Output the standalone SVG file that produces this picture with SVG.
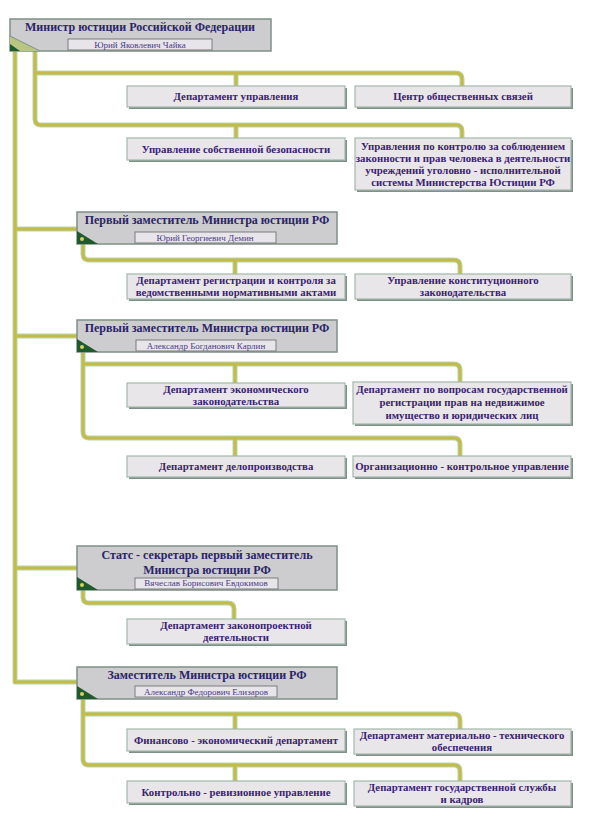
<svg xmlns="http://www.w3.org/2000/svg" width="593" height="823" viewBox="0 0 593 823">
<style>
.co{fill:none;stroke:#b8d6ab;stroke-width:5;stroke-linejoin:round}
.ci{fill:none;stroke:#c4ba48;stroke-width:3;stroke-linejoin:round}
.hd{fill:#cdcdcf;stroke:#7e9086;stroke-width:1.5}
.nm{fill:#e7e5e9;stroke:#7c7c7c;stroke-width:1}
.bx{fill:#e8e6e8;stroke:#a3b8aa;stroke-width:1.2}
.sh{fill:#7f9088}
.tri{fill:#1f5a2e}
.ht{font-family:"Liberation Serif",serif;font-weight:bold;font-size:12px;fill:#2a2468;text-anchor:middle}
.nt{font-family:"Liberation Serif",serif;font-size:9px;fill:#4a3a88;text-anchor:middle}
.bt{font-family:"Liberation Serif",serif;font-weight:bold;font-size:10.8px;fill:#3a2272;text-anchor:middle}
</style>
<defs>
<path id="p1" d="M15,40 V682 H77 M15,229 H77 M15,336 H77 M15,568 H77"/>
<path id="p2" d="M35,48 V119 Q35,125 41,125 H456 Q462,125 462,131 V138 M35,73 H456 Q462,73 462,79 V86 M236,73 V86 M236,125 V138"/>
<path id="p3" d="M83,242 V254 Q83,260 89,260 H454 Q460,260 460,266 V274 M235,260 V274"/>
<path id="p4" d="M83,350 V432 Q83,438 89,438 H454 Q460,438 460,444 V456 M83,364 H454 Q460,364 460,370 V382 M235,364 V383 M235,438 V456"/>
<path id="p5" d="M83,588 V597 Q83,603 89,603 H228 Q234,603 234,609 V619"/>
<path id="p6" d="M83,697 V759 Q83,765 89,765 H454 Q460,765 460,771 V781 M83,714 H454 Q460,714 460,720 V729 M235,714 V729 M235,765 V781"/>
</defs>
<rect width="593" height="823" fill="#ffffff"/>
<g id="connectors">
<use href="#p1" class="co"/><use href="#p2" class="co"/><use href="#p3" class="co"/><use href="#p4" class="co"/><use href="#p5" class="co"/><use href="#p6" class="co"/>
<use href="#p1" class="ci"/><use href="#p2" class="ci"/><use href="#p3" class="ci"/><use href="#p4" class="ci"/><use href="#p5" class="ci"/><use href="#p6" class="ci"/>
</g>
<g id="h1">
<rect class="hd" x="10" y="19" width="261" height="32"/>
<polygon points="10,36 10,51 40,51" fill="#b9c680"/>
<polygon points="10,44 10,51 20,51" class="tri"/>
<line x1="10" y1="36" x2="40" y2="51" stroke="#8a9a8f" stroke-width="1.2"/>
<rect class="nm" x="68" y="39" width="144" height="11"/>
<text class="ht" x="140" y="31">Министр юстиции Российской Федерации</text>
<text class="nt" x="140" y="48">Юрий Яковлевич Чайка</text>
</g>
<g id="h2">
<rect class="hd" x="77" y="212" width="260" height="32"/>
<polygon points="77,231 77,244 98,244" class="tri"/>
<circle cx="82" cy="239" r="2" fill="#d8cf55"/>
<rect class="nm" x="135" y="232" width="141" height="11"/>
<text class="ht" x="207" y="224">Первый заместитель Министра юстиции РФ</text>
<text class="nt" x="205" y="241">Юрий Георгиевич Демин</text>
</g>
<g id="h3">
<rect class="hd" x="77" y="320" width="260" height="32"/>
<polygon points="77,339 77,352 98,352" class="tri"/>
<circle cx="82" cy="347" r="2" fill="#d8cf55"/>
<rect class="nm" x="136" y="340" width="140" height="11"/>
<text class="ht" x="207" y="332">Первый заместитель Министра юстиции РФ</text>
<text class="nt" x="206" y="349">Александр Богданович Карлин</text>
</g>
<g id="h4">
<rect class="hd" x="77" y="546" width="260" height="44"/>
<polygon points="77,577 77,590 98,590" class="tri"/>
<circle cx="82" cy="585" r="2" fill="#d8cf55"/>
<rect class="nm" x="135" y="578" width="143" height="11"/>
<text class="ht" x="207" y="559">Статс - секретарь первый заместитель</text>
<text class="ht" x="207" y="574">Министра юстиции РФ</text>
<text class="nt" x="206" y="586">Вячеслав Борисович Евдокимов</text>
</g>
<g id="h5">
<rect class="hd" x="77" y="667" width="260" height="32"/>
<polygon points="77,686 77,699 98,699" class="tri"/>
<circle cx="82" cy="694" r="2" fill="#d8cf55"/>
<rect class="nm" x="135" y="686" width="142" height="11"/>
<text class="ht" x="207" y="679">Заместитель Министра юстиции РФ</text>
<text class="nt" x="206" y="695">Александр Федорович Елизаров</text>
</g>
<g id="a1"><rect class="sh" x="129" y="88" width="218" height="21"/><rect class="bx" x="127" y="86" width="218" height="21"/><text class="bt" x="236" y="100">Департамент управления</text></g>
<g id="a2"><rect class="sh" x="357" y="88" width="216" height="21"/><rect class="bx" x="355" y="86" width="216" height="21"/><text class="bt" x="463" y="100">Центр общественных связей</text></g>
<g id="b1"><rect class="sh" x="129" y="140" width="218" height="22"/><rect class="bx" x="127" y="138" width="218" height="22"/><text class="bt" x="236" y="153">Управление собственной безопасности</text></g>
<g id="b2"><rect class="sh" x="357" y="140" width="216" height="52"/><rect class="bx" x="355" y="138" width="216" height="52"/>
<text class="bt" x="463" y="150">Управления по контролю за соблюдением</text>
<text class="bt" x="463" y="162">законности и прав человека в деятельности</text>
<text class="bt" x="463" y="174">учреждений уголовно - исполнительной</text>
<text class="bt" x="463" y="186">системы Министерства Юстиции РФ</text></g>
<g id="c1"><rect class="sh" x="129" y="276" width="218" height="25"/><rect class="bx" x="127" y="274" width="218" height="25"/>
<text class="bt" x="236" y="284">Департамент регистрации и контроля за</text>
<text class="bt" x="236" y="296">ведомственными нормативными актами</text></g>
<g id="c2"><rect class="sh" x="357" y="276" width="216" height="25"/><rect class="bx" x="355" y="274" width="216" height="25"/>
<text class="bt" x="463" y="284">Управление конституционного</text>
<text class="bt" x="463" y="296">законодательства</text></g>
<g id="d1"><rect class="sh" x="129" y="385" width="218" height="24"/><rect class="bx" x="127" y="383" width="218" height="24"/>
<text class="bt" x="236" y="393">Департамент экономического</text>
<text class="bt" x="236" y="405">законодательства</text></g>
<g id="d2"><rect class="sh" x="355" y="384" width="218" height="42"/><rect class="bx" x="353" y="382" width="218" height="42"/>
<text class="bt" x="462" y="393">Департамент по вопросам государственной</text>
<text class="bt" x="462" y="406">регистрации прав на недвижимое</text>
<text class="bt" x="462" y="419">имущество и юридических лиц</text></g>
<g id="e1"><rect class="sh" x="129" y="458" width="218" height="21"/><rect class="bx" x="127" y="456" width="218" height="21"/><text class="bt" x="236" y="470">Департамент делопроизводства</text></g>
<g id="e2"><rect class="sh" x="355" y="458" width="218" height="21"/><rect class="bx" x="353" y="456" width="218" height="21"/><text class="bt" x="462" y="470">Организационно - контрольное управление</text></g>
<g id="f1"><rect class="sh" x="129" y="621" width="218" height="25"/><rect class="bx" x="127" y="619" width="218" height="25"/>
<text class="bt" x="236" y="629">Департамент законопроектной</text>
<text class="bt" x="236" y="641">деятельности</text></g>
<g id="g1"><rect class="sh" x="129" y="731" width="218" height="22"/><rect class="bx" x="127" y="729" width="218" height="22"/><text class="bt" x="236" y="744">Финансово - экономический департамент</text></g>
<g id="g2"><rect class="sh" x="356" y="731" width="217" height="25"/><rect class="bx" x="354" y="729" width="217" height="25"/>
<text class="bt" x="462" y="739">Департамент материально - технического</text>
<text class="bt" x="462" y="751">обеспечения</text></g>
<g id="h1b"><rect class="sh" x="129" y="783" width="218" height="22"/><rect class="bx" x="127" y="781" width="218" height="22"/><text class="bt" x="236" y="796">Контрольно - ревизионное управление</text></g>
<g id="h2b"><rect class="sh" x="356" y="783" width="217" height="25"/><rect class="bx" x="354" y="781" width="217" height="25"/>
<text class="bt" x="462" y="791">Департамент государственной службы</text>
<text class="bt" x="462" y="803">и кадров</text></g>
</svg>
